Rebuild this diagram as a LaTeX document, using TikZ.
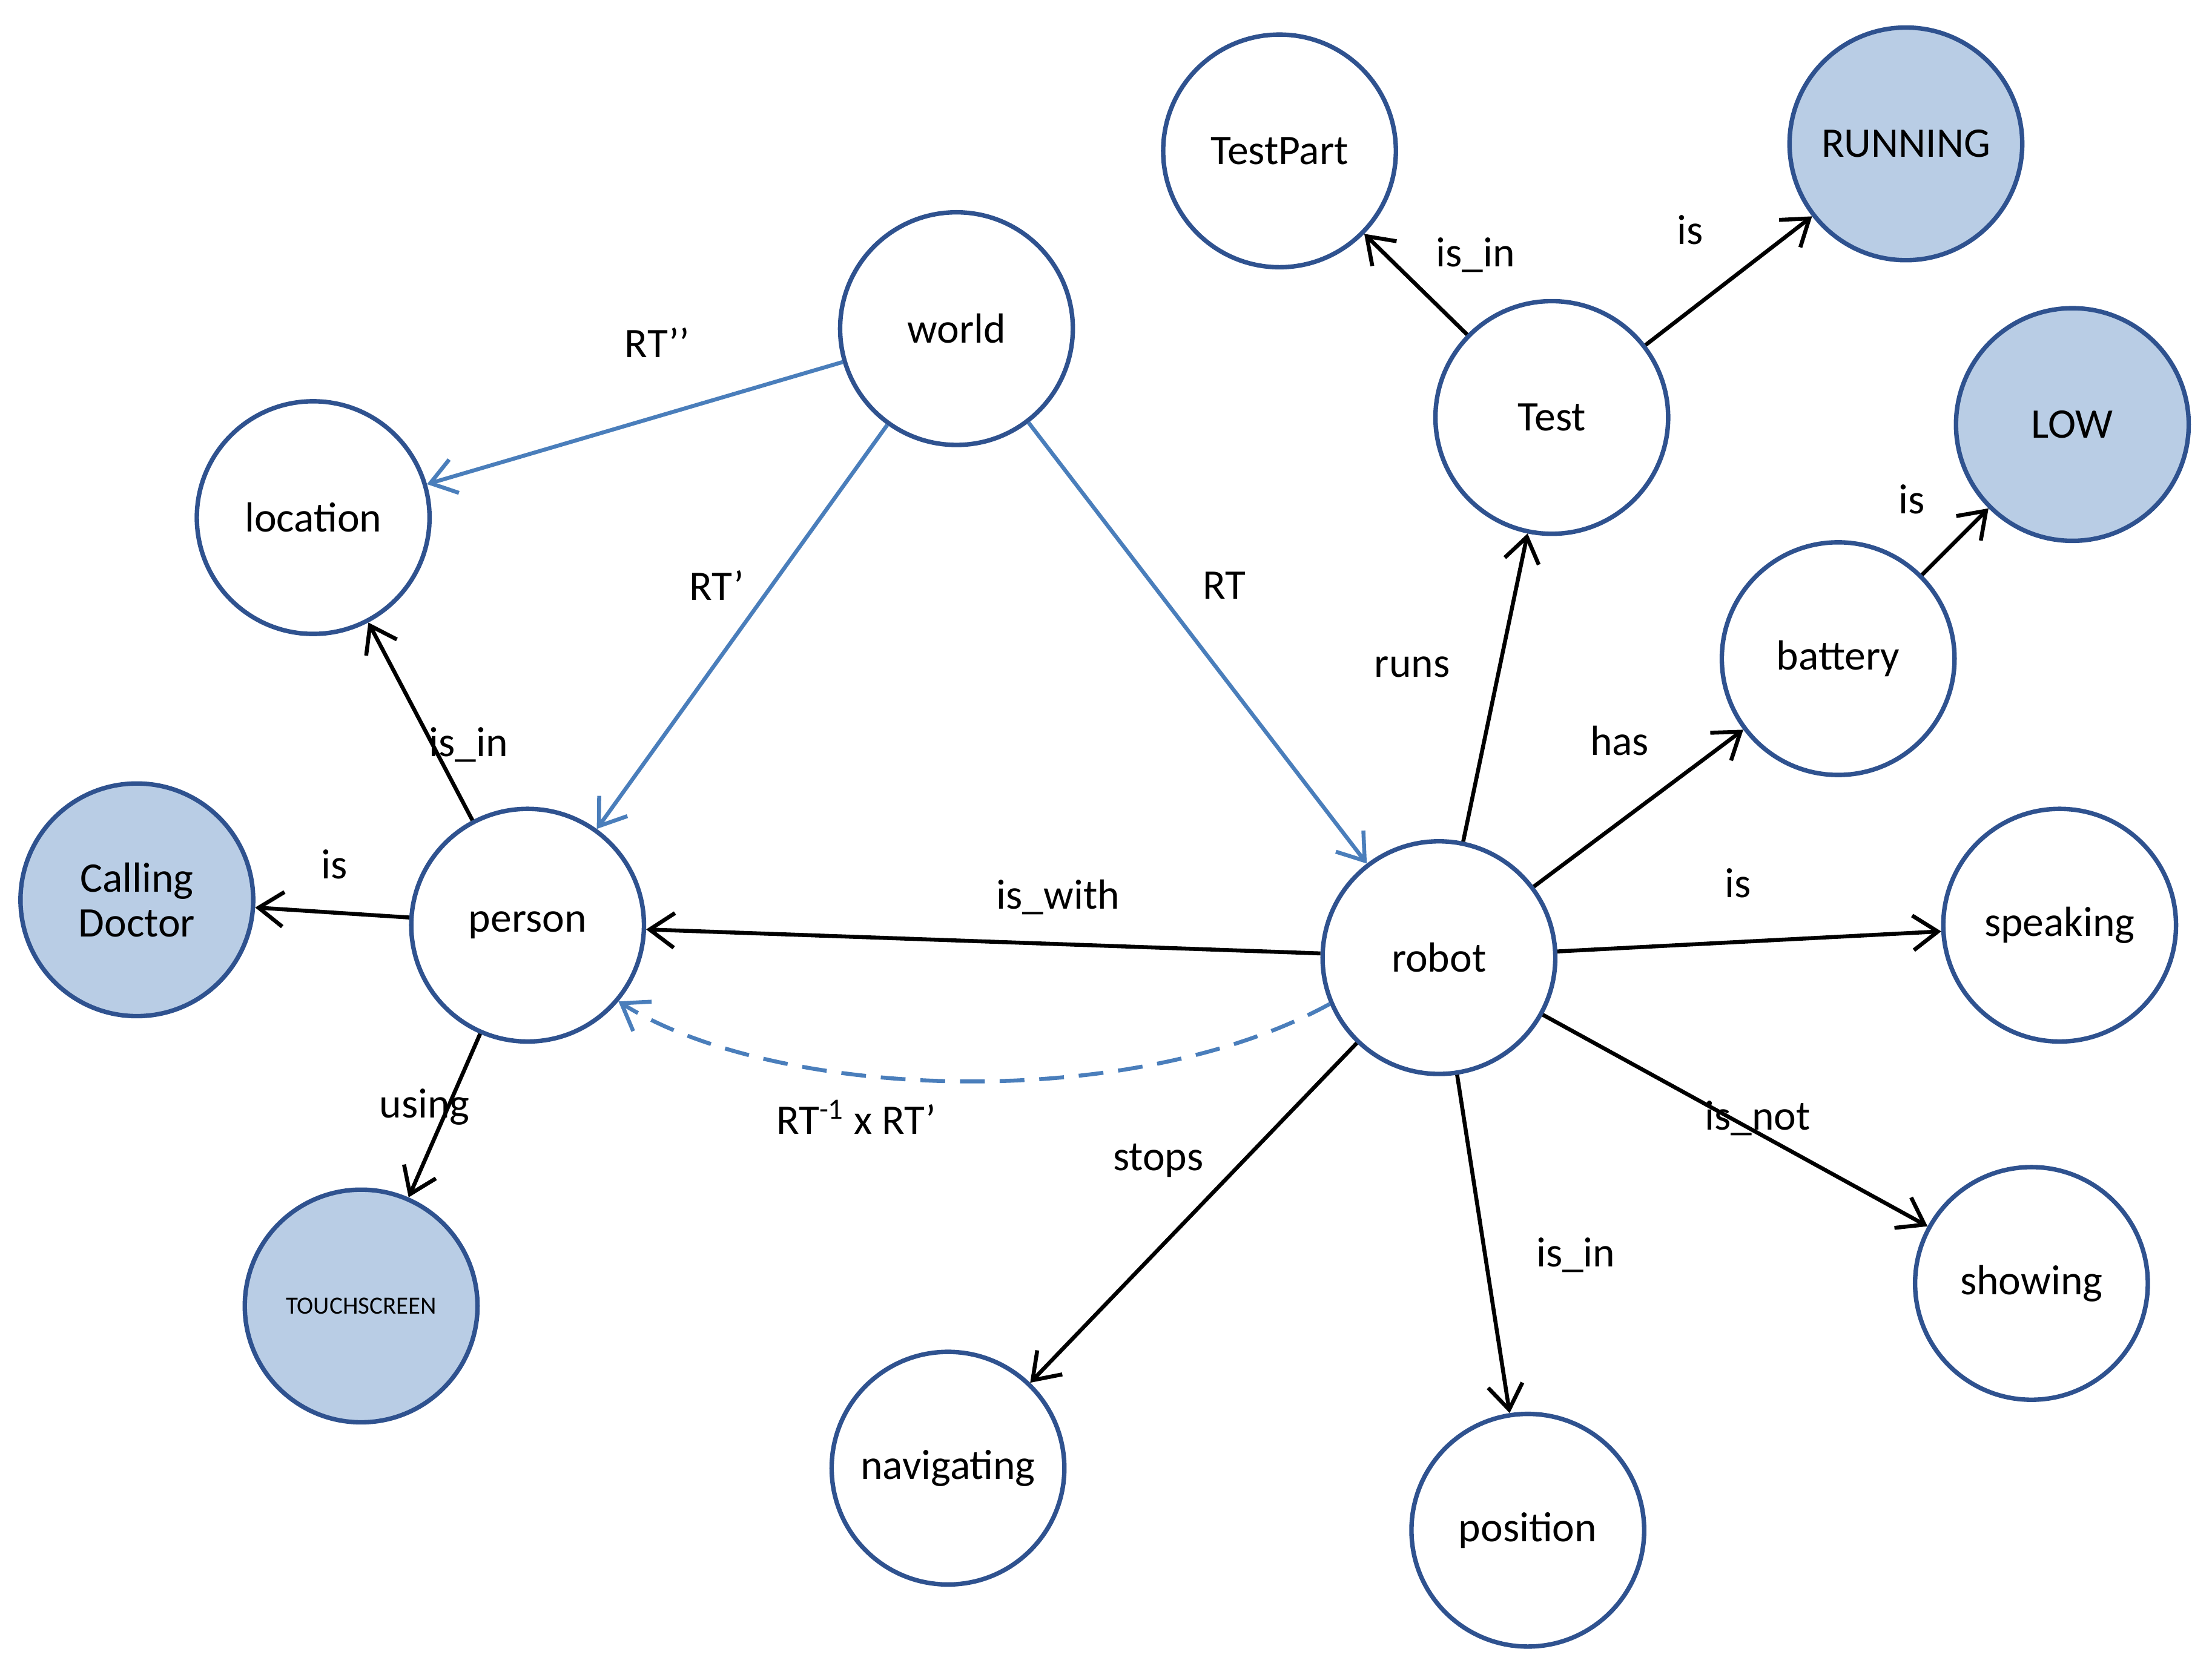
\documentclass[tikz,border=0pt]{standalone}
\usepackage{fontspec}
\setmainfont{Carlito}
\usetikzlibrary{arrows.meta}
\definecolor{bord}{RGB}{47,82,143}
\definecolor{fillb}{RGB}{185,205,229}
\definecolor{blu}{RGB}{74,126,187}
\begin{document}
\begin{tikzpicture}[x=0.02cm,y=-0.02cm,
  st/.style={circle,draw=bord,line width=1.8pt,minimum size=3.3cm,inner sep=0pt,font=\fontsize{17}{20}\selectfont,align=center,fill=white},
  hl/.style={st,fill=fillb},
  e/.style={line width=1.6pt,-{Straight Barb[length=10pt,width=14pt]}},
  b/.style={e,draw=blu},
  lb/.style={font=\fontsize{17}{20}\selectfont}]
\useasboundingbox (0,0) rectangle (1568,1183);
\node[st] (world) at (678,233) {world};
\node[st] (location) at (222,367) {location};
\node[st] (testpart) at (907,107) {TestPart};
\node[hl] (running) at (1351,102) {RUNNING};
\node[st] (test) at (1100,296) {Test};
\node[hl] (low) at (1469,301) {LOW};
\node[st] (battery) at (1303,467) {battery};
\node[st] (speaking) at (1460,656) {speaking};
\node[st] (robot) at (1020,679) {robot};
\node[st] (person) at (374,656) {person};
\node[hl] (calling) at (97,638) {Calling\\[-2pt]Doctor};
\node[hl,font=\fontsize{10}{12}\selectfont] (touch) at (256,926) {TOUCHSCREEN};
\node[st] (navigating) at (672,1041) {navigating};
\node[st] (position) at (1083,1085) {position};
\node[st] (showing) at (1440,910) {showing};

\draw[b] (world) -- (location);
\draw[b] (world) -- (person);
\draw[b] (world) -- (robot);
\draw[e] (test) -- (testpart);
\draw[e] (test) -- (running);
\draw[e] (battery) -- (low);
\draw[e] (robot) -- (test);
\draw[e] (robot) -- (battery);
\draw[e] (robot) -- (speaking);
\draw[e] (robot) -- (showing);
\draw[e] (robot) -- (position);
\draw[e] (robot) -- (navigating);
\draw[e] (robot) -- (person);
\draw[e] (person) -- (location);
\draw[e] (person) -- (calling);
\draw[e] (person) -- (touch);
\draw[b,dashed,dash pattern=on 10pt off 6pt] (robot.203) .. controls (800,790) and (550,780) .. (person.-40);

\node[lb] (l1) at (466,243) {RT’’};
\node[lb] (l2) at (508,415) {RT’};
\node[lb] (l3) at (868,415) {RT};
\node[lb] (l4) at (1046,181) {is\_in};
\node[lb] (l5) at (1198,163) {is};
\node[lb] (l6) at (1355,354) {is};
\node[lb] (l7) at (1001,473) {runs};
\node[lb] (l8) at (1148,525) {has};
\node[lb] (l9) at (1232,626) {is};
\node[lb] (l10) at (1246,793) {is\_not};
\node[lb] (l11) at (1117,890) {is\_in};
\node[lb] (l12) at (821,823) {stops};
\node[lb] (l13) at (750,636) {is\_with};
\node[lb] (l14) at (607,792) {RT\textsuperscript{-1} x RT’};
\node[lb] (l15) at (332,528) {is\_in};
\node[lb] (l16) at (237,613) {is};
\node[lb] (l17) at (301,785) {using};
\end{tikzpicture}
\end{document}
